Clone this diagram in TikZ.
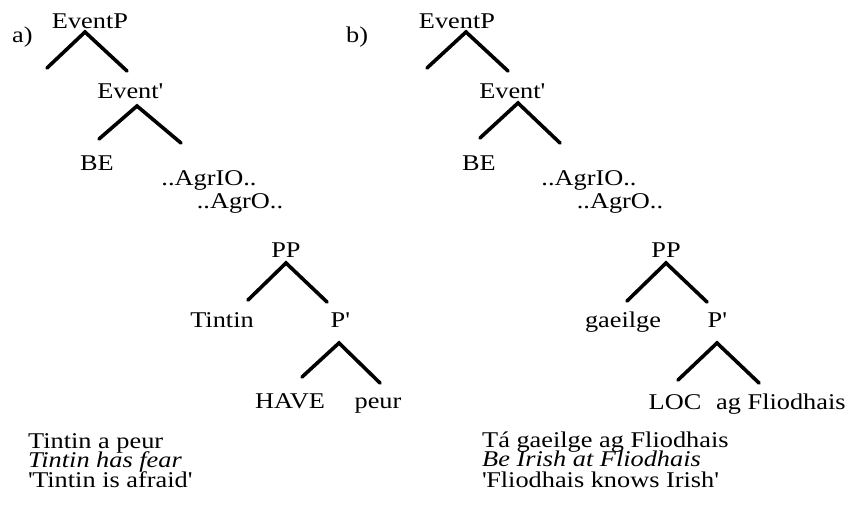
\documentclass[tikz,border=0pt]{standalone}
\usepackage{fontspec}
\setmainfont{Liberation Serif}[FakeStretch=1.17]
\newcommand{\sq}{\textquotesingle}
\begin{document}
\begin{tikzpicture}[x=1pt,y=-1pt,
  lbl/.style={inner sep=0pt,anchor=base,font=\fontsize{22.5}{26}\selectfont},
  lblw/.style={lbl,anchor=base west},
  branch/.style={line width=3.6pt,line cap=round}]
\useasboundingbox (0,0) rectangle (851,512);
% ---------- a) ----------
\node[lblw] (la) at (12,42) {a)};
\node[lbl] (aEP) at (90,28) {EventP};
\coordinate (aEPx) at (85,32);
\coordinate (aEPl) at (47,68);
\coordinate (aEPr) at (127,71);
\node[lbl] (aEb) at (130,98) {Event\sq};
\coordinate (aEbx) at (137,106);
\coordinate (aEbl) at (99,139);
\coordinate (aEbr) at (181,143);
\node[lbl] (aBE) at (97,170) {BE};
\node[lbl] (aIO) at (209,185) {..AgrIO..};
\node[lbl] (aO) at (240,208) {..AgrO..};
\node[lbl] (aPP) at (286,257) {PP};
\coordinate (aPPx) at (286,263);
\coordinate (aPPl) at (248,300);
\coordinate (aPPr) at (327,302);
\node[lbl] (aTin) at (222,327) {Tintin};
\node[lbl] (aPb) at (340,327) {P\sq};
\coordinate (aPbx) at (339,343);
\coordinate (aPbl) at (302,377);
\coordinate (aPbr) at (380,383);
\node[lbl] (aHAVE) at (290,408) {HAVE};
\node[lbl] (apeur) at (378,408) {peur};
\draw[branch] (aEPl) -- (aEPx) -- (aEPr);
\draw[branch] (aEbl) -- (aEbx) -- (aEbr);
\draw[branch] (aPPl) -- (aPPx) -- (aPPr);
\draw[branch] (aPbl) -- (aPbx) -- (aPbr);
\node[lblw] (at1) at (28,448) {Tintin a peur};
\node[lblw] (at2) at (28,467) {\itshape Tintin has fear};
\node[lblw] (at3) at (28,487) {\sq Tintin is afraid\sq};
% ---------- b) ----------
\node[lblw] (lb) at (346,42) {b)};
\node[lbl] (bEP) at (457,28) {EventP};
\coordinate (bEPx) at (466,32);
\coordinate (bEPl) at (427,68);
\coordinate (bEPr) at (508,71);
\node[lbl] (bEb) at (512,98) {Event\sq};
\coordinate (bEbx) at (518,103);
\coordinate (bEbl) at (480,138);
\coordinate (bEbr) at (560,143);
\node[lbl] (bBE) at (479,170) {BE};
\node[lbl] (bIO) at (589,185) {..AgrIO..};
\node[lbl] (bO) at (620,208) {..AgrO..};
\node[lbl] (bPP) at (666,257) {PP};
\coordinate (bPPx) at (666,263);
\coordinate (bPPl) at (627,301);
\coordinate (bPPr) at (707,302);
\node[lbl] (bgae) at (623,327) {gaeilge};
\node[lbl] (bPb) at (717,327) {P\sq};
\coordinate (bPbx) at (717,343);
\coordinate (bPbl) at (678,380);
\coordinate (bPbr) at (759,383);
\node[lbl] (bLOC) at (675,409) {LOC};
\node[lblw] (bag) at (716,409) {ag Fliodhais};
\draw[branch] (bEPl) -- (bEPx) -- (bEPr);
\draw[branch] (bEbl) -- (bEbx) -- (bEbr);
\draw[branch] (bPPl) -- (bPPx) -- (bPPr);
\draw[branch] (bPbl) -- (bPbx) -- (bPbr);
\node[lblw] (bt1) at (482,447) {Tá gaeilge ag Fliodhais};
\node[lblw] (bt2) at (482,466) {\itshape Be Irish at Fliodhais};
\node[lblw] (bt3) at (482,487) {\sq Fliodhais knows Irish\sq};
\end{tikzpicture}
\end{document}
